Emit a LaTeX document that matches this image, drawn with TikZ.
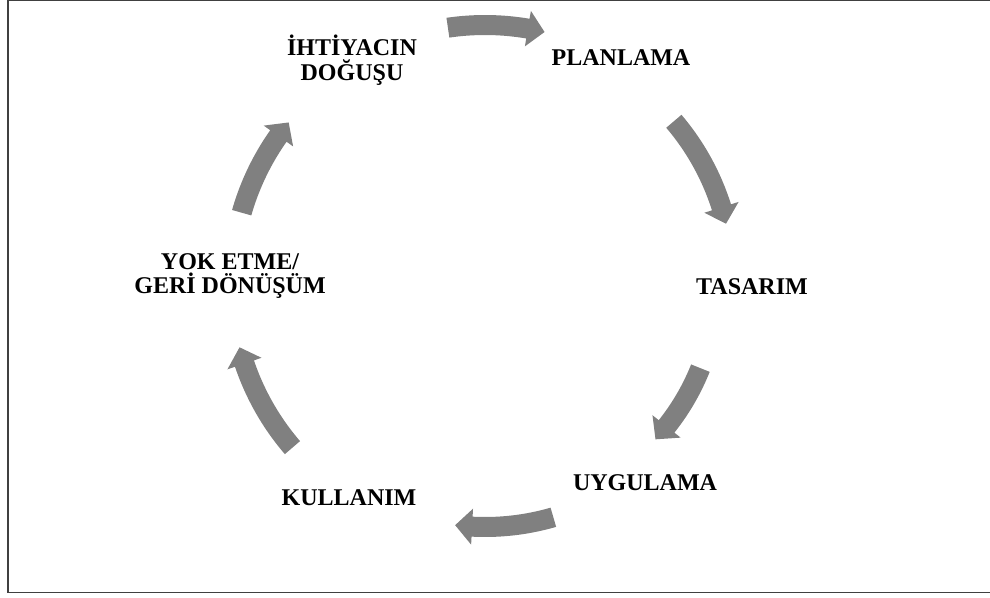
\documentclass[tikz,border=0pt]{standalone}
\usepackage{fontspec}
\setmainfont{Liberation Serif}
\begin{document}
\begin{tikzpicture}[x=0.75pt,y=-0.75pt,
  stage/.style={font=\bfseries\fontsize{18pt}{18.5pt}\selectfont,align=center,inner sep=0pt},
  framestyle/.style={draw=black!75,line width=1.4pt},
  arrowfill/.style={fill=black!50}]
\useasboundingbox (0,0) rectangle (990,597);
\clip (0,0) rectangle (990,597);
% outer frame (its right edge lies past the page)
\draw[framestyle] (8,0) rectangle (1010,592.5);

% stage labels
\node[stage] (need) at (352,60) {İHTİYACIN\\DOĞUŞU};
\node[stage] (plan) at (621,58) {PLANLAMA};
\node[stage] (design) at (752,287) {TASARIM};
\node[stage] (apply) at (645,483) {UYGULAMA};
\node[stage] (use) at (349,498) {KULLANIM};
\node[stage] (recycle) at (230,276) {YOK ETME/\\GERİ DÖNÜŞÜM};

% curved block arrows around the cycle centre (485,282)
% #1 tail angle, #2 tip angle, #3 radius (screen angles, clockwise)
\newcommand{\cyclearrow}[3]{%
  \pgfmathsetmacro\hb{#2-17/#3*57.2958}%
  \fill[arrowfill]
    plot[domain=#1:\hb,samples=24] ({485+(#3+10)*cos(\x)},{282+(#3+10)*sin(\x)})
    -- ({485+(#3+18)*cos(\hb)},{282+(#3+18)*sin(\hb)})
    -- ({485+#3*cos(#2)},{282+#3*sin(#2)})
    -- ({485+(#3-18)*cos(\hb)},{282+(#3-18)*sin(\hb)})
    -- plot[domain=\hb:#1,samples=24] ({485+(#3-10)*cos(\x)},{282+(#3-10)*sin(\x)})
    -- cycle;}
\cyclearrow{-98.3}{-76.6}{257}
\cyclearrow{-40.4}{-13.6}{248}
\cyclearrow{21.8}{42.7}{232}
\cyclearrow{73.8}{97.0}{245}
\cyclearrow{139.3}{165.1}{254}
\cyclearrow{195.9}{219.1}{253}
\end{tikzpicture}
\end{document}
